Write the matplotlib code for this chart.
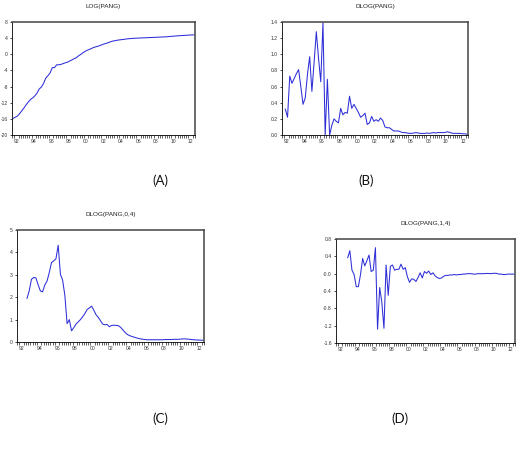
#!/usr/bin/env python

import numpy as np
import pandas as pd
import matplotlib
matplotlib.use("Agg")
import matplotlib.pyplot as plt

# quarterly LOG(PANG), 1992Q1 - 2012Q4
log_pang = [
    -15.9, -15.6, -15.3, -14.7,
    -14.0, -13.3, -12.5, -11.8,
    -11.2, -10.8, -10.3, -9.6,
    -8.6, -8.1, -7.2, -5.9,
    -5.3, -4.6, -3.3, -3.3,
    -2.6, -2.6, -2.5, -2.3,
    -2.1, -1.95, -1.65, -1.4,
    -1.1, -0.85, -0.4, -0.05,
    0.35, 0.7, 1.0, 1.2,
    1.45, 1.7, 1.85, 2.0,
    2.2, 2.4, 2.6, 2.75,
    2.95, 3.15, 3.3, 3.4,
    3.5, 3.58, 3.64, 3.7,
    3.8, 3.85, 3.9, 3.95,
    3.98, 4.0, 4.03, 4.05,
    4.08, 4.1, 4.13, 4.15,
    4.17, 4.2, 4.22, 4.25,
    4.28, 4.3, 4.33, 4.36,
    4.42, 4.46, 4.5, 4.55,
    4.6, 4.63, 4.66, 4.7,
    4.73, 4.76, 4.79, 4.82,
]

# DLOG(PANG), 1992Q2 - 2012Q4
dlog_pang = [
    0.32, 0.22, 0.73,
    0.64, 0.70, 0.76, 0.81,
    0.60, 0.38, 0.46, 0.75,
    0.97, 0.54, 0.90, 1.28,
    0.95, 0.66, 1.39, 0.00,
    0.69, 0.00, 0.12, 0.20,
    0.17, 0.15, 0.33, 0.25,
    0.28, 0.27, 0.48, 0.33,
    0.38, 0.33, 0.28, 0.22,
    0.24, 0.27, 0.13, 0.15,
    0.23, 0.17, 0.19, 0.17,
    0.21, 0.18, 0.10, 0.09,
    0.09, 0.07, 0.05, 0.05,
    0.05, 0.04, 0.03, 0.03,
    0.025, 0.02, 0.02, 0.025,
    0.03, 0.025, 0.02, 0.02,
    0.02, 0.025, 0.02, 0.025,
    0.03, 0.025, 0.03, 0.03,
    0.03, 0.03, 0.04, 0.035,
    0.025, 0.02, 0.02, 0.02,
    0.02, 0.015, 0.015, 0.01,
]

# DLOG(PANG,0,4), 1993Q1 - 2012Q4
dlog_pang_04 = [
    1.95, 2.29, 2.80, 2.88,
    2.86, 2.55, 2.28, 2.24,
    2.55, 2.72, 3.10, 3.55,
    3.62, 3.72, 4.32, 3.02,
    2.76, 2.08, 0.82, 1.00,
    0.50, 0.64, 0.80, 0.90,
    1.00, 1.13, 1.27, 1.45,
    1.52, 1.60, 1.42, 1.22,
    1.10, 0.95, 0.80, 0.77,
    0.78, 0.68, 0.74, 0.75,
    0.74, 0.73, 0.66, 0.55,
    0.43, 0.34, 0.29, 0.25,
    0.22, 0.19, 0.16, 0.14,
    0.12, 0.11, 0.10, 0.10,
    0.10, 0.10, 0.10, 0.10,
    0.10, 0.10, 0.11, 0.11,
    0.11, 0.11, 0.12, 0.12,
    0.12, 0.13, 0.14, 0.14,
    0.13, 0.12, 0.11, 0.10,
    0.09, 0.09, 0.08, 0.08,
]

# DLOG(PANG,1,4), 1993Q2 - 2012Q4
dlog_pang_14 = [
    0.37, 0.53, 0.08,
    -0.02, -0.30, -0.30, -0.02,
    0.35, 0.18, 0.30, 0.43,
    0.05, 0.08, 0.60, -1.28,
    -0.32, -0.66, -1.26, 0.20,
    -0.50, 0.17, 0.20, 0.08,
    0.10, 0.10, 0.22, 0.10,
    0.14, -0.07, -0.20, -0.12,
    -0.13, -0.18, -0.09, 0.02,
    -0.10, 0.05, 0.01, 0.06,
    -0.02, 0.02, -0.05, -0.09,
    -0.11, -0.10, -0.06, -0.04,
    -0.04, -0.03, -0.03, -0.02,
    -0.03, -0.02, -0.02, -0.01,
    -0.01, 0.00, 0.00, 0.00,
    -0.01, -0.01, 0.00, 0.00,
    0.00, 0.00, 0.005, 0.005,
    0.00, 0.005, 0.01, 0.005,
    -0.01, -0.01, -0.02, -0.02,
    -0.01, -0.01, -0.01, -0.01,
]

year_labels = ["92", "94", "96", "98", "00", "02", "04", "06", "08", "10", "12"]
panel_labels = ["(A)", "(B)", "(C)", "(D)"]

LINE_COLOR = "#2e2ed8"


def quarter_positions(start, n):
    # place each quarter at the middle of its period, in decimal years
    per = pd.period_range(start, periods=n, freq="Q")
    return np.array([p.year + (p.quarter - 0.5) / 4 for p in per])


def draw_panel(fig, rect, title, values, start, ylim, yticks, yfmt):
    ax = fig.add_axes(rect)
    x = quarter_positions(start, len(values))
    ax.plot(x, values, color=LINE_COLOR, lw=0.75)
    ax.set_xlim(1992, 2013)
    ax.set_ylim(*ylim)

    ax.set_xticks([1992.5 + 2 * i for i in range(len(year_labels))])
    ax.set_xticklabels(year_labels)
    ax.set_xticks(np.arange(1992, 2013.01, 0.25), minor=True)
    ax.tick_params(axis="x", which="major", length=0, pad=3, labelsize=3.6, labelcolor="#333333")
    ax.tick_params(axis="x", which="minor", length=2.0, width=0.5, direction="out", color="#222222")

    ax.set_yticks(yticks)
    ax.set_yticklabels([yfmt.format(v) for v in yticks])
    ax.tick_params(axis="y", length=1.8, width=0.5, pad=1.2, labelsize=3.6, labelcolor="#333333")

    for side in ["left", "bottom"]:
        ax.spines[side].set_linewidth(0.6)
    for side in ["top", "right"]:
        ax.spines[side].set_linewidth(1.1)
        ax.spines[side].set_color("#444444")

    ax.set_title(title, fontsize=4.6, pad=10, color="#222222")
    return ax


plt.rcParams["font.family"] = ["Liberation Sans", "DejaVu Sans"]

fig = plt.figure(figsize=(5.22, 4.5), dpi=100)

W, H = 522.0, 450.0

draw_panel(fig, [12 / W, (H - 135) / H, 183 / W, 113 / H], "LOG(PANG)",
           log_pang, "1992Q1", (-20, 8), list(range(-20, 9, 4)), "{:d}")
draw_panel(fig, [282 / W, (H - 135) / H, 186 / W, 113 / H], "DLOG(PANG)",
           dlog_pang, "1992Q2", (0, 1.4), list(np.round(np.arange(0, 1.41, 0.2), 1)), "{:.1f}")
draw_panel(fig, [17 / W, (H - 342) / H, 187 / W, 112 / H], "DLOG(PANG,0,4)",
           dlog_pang_04, "1993Q1", (0, 5), list(range(0, 6)), "{:d}")
draw_panel(fig, [336 / W, (H - 343) / H, 179 / W, 104 / H], "DLOG(PANG,1,4)",
           dlog_pang_14, "1993Q2", (-1.6, 0.8), list(np.round(np.arange(-1.6, 0.81, 0.4), 1)), "{:.1f}")

label_pos = [(160, 181), (366, 181), (160, 419), (400, 419)]
for lab, (px, py) in zip(panel_labels, label_pos):
    fig.text(px / W, 1 - py / H, lab, ha="center", va="center",
             fontsize=9.5, family=["Lato", "DejaVu Sans"], color="#111111")

fig.savefig("out.png", dpi=100)
